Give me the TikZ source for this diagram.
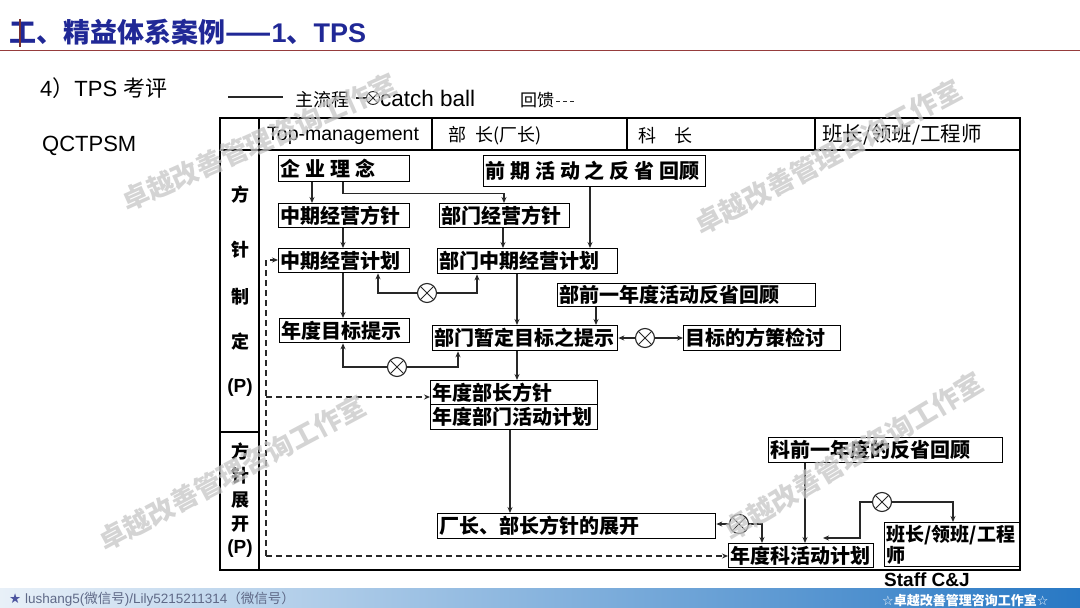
\documentclass[tikz,border=0pt]{standalone}
\usepackage{fontspec}
\setmainfont{Liberation Sans}
\newfontfamily\cjk{Noto Sans CJK SC}
\newfontfamily\djv{DejaVu Sans}
\usetikzlibrary{arrows.meta,calc}
\definecolor{titleblue}{RGB}{32,40,150}
\definecolor{rulered}{RGB}{150,60,60}
\definecolor{barL}{RGB}{232,240,248}
\definecolor{barM}{RGB}{150,195,232}
\definecolor{barR}{RGB}{40,120,196}
\definecolor{footgray}{RGB}{95,105,135}
\definecolor{linegray}{RGB}{40,40,40}
\newcommand\gp{\hspace{0.24em}}
\begin{document}
\begin{tikzpicture}[x=1pt,y=-1pt,
  txt/.style={inner sep=0pt, anchor=west},
  box/.style={draw=black, line width=1.3pt, inner xsep=2pt, inner ysep=0pt,
    anchor=north west, align=left, font=\cjk\bfseries\fontsize{20}{22}\selectfont},
  arr/.style={draw=linegray, line width=1.1pt, -{Stealth[length=6pt,width=5pt]}},
  ln/.style={draw=linegray, line width=1.1pt},
  fbk/.style={draw=linegray, line width=1.2pt, dash pattern=on 6pt off 4pt},
  fbka/.style={fbk, -{Stealth[length=6pt,width=5pt]}},
  cb/.style={circle, draw=linegray, line width=1.1pt, minimum size=19pt, inner sep=0pt, fill=white,
    path picture={\draw[line width=1pt,linegray] (path picture bounding box.north west) -- (path picture bounding box.south east)
      (path picture bounding box.north east) -- (path picture bounding box.south west);}},
  frm/.style={line width=2.8pt, draw=black},
  lc/.style={font=\cjk\bfseries\fontsize{18}{20}\selectfont, inner sep=0pt},
  wm/.style={font=\cjk\bfseries\fontsize{27}{29}\selectfont, text=gray!45, opacity=0.75, inner sep=0pt, rotate=28}
]
\useasboundingbox (0,0) rectangle (1080,608);

% ---------- title ----------
\node[txt, anchor=base west, text=titleblue, font=\bfseries\fontsize{27}{30}\selectfont] (title) at (9,42)
  {{\cjk 工、精益体系案例——}1{\cjk 、}TPS};
\draw[rulered!80!black, line width=2.5pt] (20,19) -- (20,47);
\draw[rulered, line width=1.3pt] (0,50.5) -- (1080,50.5);

\node[txt, font=\fontsize{22}{24}\selectfont] (sub) at (40,88) {4{\cjk ）}TPS {\cjk 考评}};
\node[txt, font=\fontsize{22}{24}\selectfont] (qc) at (42,146) {QCTPSM};

% ---------- legend ----------
\coordinate (lgA) at (228,97);
\coordinate (lgB) at (283,97);
\draw[ln] (lgA) -- (lgB);
\node[txt, font=\cjk\fontsize{18}{20}\selectfont] (lg1) at (295,100) {主流程};
\node[cb, minimum size=13pt, line width=0.9pt] (lgc) at (373,98) {};
\draw[ln] (lgc.west) -- ++(-10,0);
\node[txt, font=\fontsize{22.5}{24}\selectfont] (lg2) at (380,98) {catch ball};
\node[txt, font=\cjk\fontsize{17}{19}\selectfont] (lg3) at (520,100) {回馈};
\draw[linegray, line width=0.8pt, dash pattern=on 4pt off 3pt] (lg3.east) ++(2,1) -- ++(20,0);

% ---------- frame ----------
\draw[frm] (220,118) rectangle (1020,570);
\draw[frm] (259,118) -- (259,570);
\draw[frm] (220,150) -- (1020,150);
\draw[frm] (220,432) -- (259,432);
\draw[line width=2pt] (432,118) -- (432,150);
\draw[line width=2pt] (627,118) -- (627,150);
\draw[line width=2pt] (815,118) -- (815,150);

\node[txt, font=\fontsize{19.5}{22}\selectfont] (h1) at (267,136) {Top-management};
\node[txt, font=\cjk\fontsize{18}{20}\selectfont] (h2) at (448,136) {部\hspace{0.5em}长(厂长)};
\node[txt, font=\cjk\fontsize{18}{20}\selectfont] (h3) at (638,136) {科\hspace{1em}长};
\node[txt, font=\cjk\fontsize{20.5}{22}\selectfont] (h4) at (822,135) {班长/领班/工程师};

\node[lc] (l1) at (240,195) {方};
\node[lc] (l2) at (240,250) {针};
\node[lc] (l3) at (240,297) {制};
\node[lc] (l4) at (240,342) {定};
\node[lc, font=\bfseries\fontsize{19}{21}\selectfont] (l5) at (240,388) {(P)};
\node[lc] (m1) at (240,452) {方};
\node[lc] (m2) at (240,476) {针};
\node[lc] (m3) at (240,500) {展};
\node[lc] (m4) at (240,524) {开};
\node[lc, font=\bfseries\fontsize{19}{21}\selectfont] (m5) at (240,549) {(P)};

% ---------- boxes ----------
\node[box, text width=127pt, minimum height=26pt] (qy) at (278,155) {企\gp 业\gp 理\gp 念};
\node[box, text width=218pt, minimum height=31pt] (qq) at (483,155) {前\gp 期\gp 活\gp 动\gp 之\gp 反\gp 省\gp 回顾};
\node[box, text width=127pt, minimum height=24pt] (zf) at (278,203) {中期经营方针};
\node[box, text width=126pt, minimum height=24pt] (bf) at (439,203) {部门经营方针};
\node[box, text width=127pt, minimum height=24pt] (zj) at (278,248) {中期经营计划};
\node[box, text width=176pt, minimum height=25pt] (bz) at (437,248) {部门中期经营计划};
\node[box, text width=254pt, minimum height=23pt] (bq) at (557,283) {部前一年度活动反省回顾};
\node[box, text width=126pt, minimum height=24pt] (nd) at (279,318) {年度目标提示};
\node[box, text width=181pt, minimum height=25pt] (bd) at (432,325) {部门暂定目标之提示};
\node[box, text width=153pt, minimum height=25pt] (mb) at (683,325) {目标的方策检讨};
\node[box, text width=163pt, minimum height=24pt] (nb) at (430,380) {年度部长方针};
\node[box, text width=163pt, minimum height=25pt] (nh) at (430,404) {年度部门活动计划};
\node[box, text width=274pt, minimum height=25pt] (cz) at (437,513) {厂长、部长方针的展开};
\node[box, text width=230pt, minimum height=25pt] (kq) at (768,437) {科前一年度的反省回顾};
\node[box, text width=141pt, minimum height=24pt] (nk) at (728,543) {年度科活动计划};
\node[box, text width=131pt, minimum height=44pt, font=\cjk\bfseries\fontsize{19}{21}\selectfont] (bl) at (884,522) {班长/领班/工程\\师};

% ---------- catch balls ----------
\node[cb] (c1) at (427,293) {};
\node[cb] (c2) at (397,367) {};
\node[cb] (c3) at (645,338) {};
\node[cb] (c4) at (739,524) {};
\node[cb] (c5) at (882,502) {};

% ---------- main flow ----------
\draw[arr] (qy.south -| 312,0) -- (zf.north -| 312,0);
\draw[arr] (qy.south -| 343,0) -- ++(0,11) -| (bf.north -| 504,0);
\draw[arr] (zf.south -| 343,0) -- (zj.north -| 343,0);
\draw[arr] (bf.south -| 503,0) -- (bz.north -| 503,0);
\draw[arr] (qq.south -| 590,0) -- (bz.north -| 590,0);
\draw[arr] (zj.south -| 343,0) -- (nd.north -| 343,0);
\draw[arr] (bz.south -| 517,0) -- (bd.north -| 517,0);
\draw[arr] (bq.south -| 596,0) -- (bd.north -| 596,0);
\draw[arr] (bd.south -| 517,0) -- (nb.north -| 517,0);
\draw[arr] (nh.south -| 510,0) -- (cz.north -| 510,0);
\draw[arr] (kq.south -| 805,0) -- (nk.north -| 805,0);

% ---------- catch ball links ----------
\draw[arr] (c1.west) -| (zj.south -| 378,0);
\draw[arr] (c1.east) -| (bz.south -| 477,0);
\draw[arr] (c2.west) -| (nd.south -| 343,0);
\draw[arr] (c2.east) -| (bd.south -| 458,0);
\draw[arr] (c3.west) -- (c3.west -| bd.east);
\draw[arr] (c3.east) -- (c3.east -| mb.west);
\draw[arr] (c4.west) -- (c4.west -| cz.east);
\draw[arr] (c4.east) -| (nk.north -| 762,0);
\coordinate (c5b) at (860,538);
\draw[arr] (c5.west) -| (c5b) -- (c5b -| 823,0);
\draw[arr] (c5.east) -| (bl.north -| 953,0);

% ---------- feedback (dashed) ----------
\coordinate (fbt) at (266,260);
\coordinate (fbb) at (266,556);
\coordinate (fbm) at (266,397);
\draw[fbka] (fbb) -- (fbt) -- (zj.west |- fbt);
\draw[fbka] (fbm) -- (nb.west |- fbm);
\draw[fbka] (fbb) -- (nk.west |- fbb);

% ---------- watermarks ----------
\node[wm, rotate=-4] (w1) at (259,142) {卓越改善管理咨询工作室};
\node[wm] (w2) at (828,157) {卓越改善管理咨询工作室};
\node[wm] (w3) at (232,473) {卓越改善管理咨询工作室};
\node[wm, rotate=3] (w4) at (853,456) {卓越改善管理咨询工作室};

% ---------- bottom bar ----------
\shade[left color=barL, middle color=barM, right color=barR] (0,588) rectangle (1080,608);
\node[txt, font=\bfseries\fontsize{19}{21}\selectfont] (staff) at (884,580) {Staff C\&J};
\node[txt, text=footgray, font=\fontsize{13.5}{15}\selectfont] (foot) at (9,599)
  {{\djv\color{footgray!80!blue}★} lushang5({\cjk 微信号})/Lily5215211314{\cjk （微信号）}};
\node[txt, text=white, font=\cjk\bfseries\fontsize{13}{15}\selectfont] (foot2) at (882,600)
  {{\djv ☆}卓越改善管理咨询工作室{\djv ☆}};
\end{tikzpicture}
\end{document}
